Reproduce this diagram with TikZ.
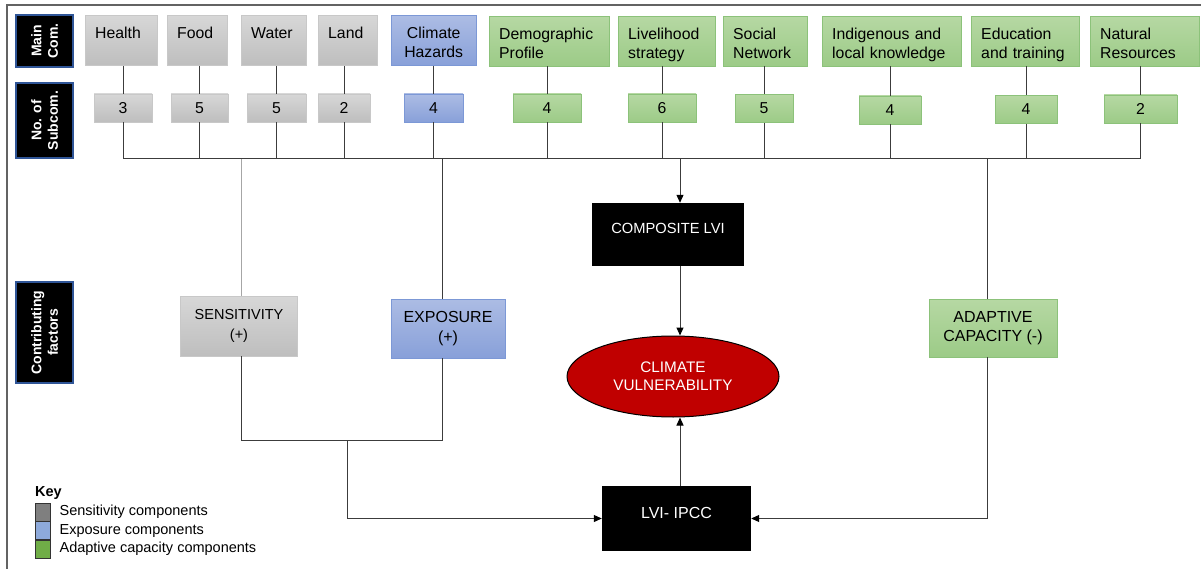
\documentclass[tikz,border=0pt]{standalone}
\usepackage{fontspec}
\setmainfont{Liberation Sans}
\usepackage{tikz}
\usetikzlibrary{arrows.meta,positioning,shapes.geometric}
\definecolor{grayhi}{RGB}{215,215,215}
\definecolor{graylo}{RGB}{190,190,190}
\definecolor{grayedge}{RGB}{200,200,200}
\definecolor{greenhi}{RGB}{182,216,163}
\definecolor{greenlo}{RGB}{156,203,135}
\definecolor{greenedge}{RGB}{140,194,122}
\definecolor{bluehi}{RGB}{172,188,228}
\definecolor{bluelo}{RGB}{136,160,217}
\definecolor{blueedge}{RGB}{124,152,214}
\definecolor{tagedge}{RGB}{47,85,151}
\definecolor{vulnred}{RGB}{192,0,0}
\definecolor{wirecol}{RGB}{60,60,60}
\definecolor{keygray}{RGB}{127,127,127}
\definecolor{keyblue}{RGB}{142,170,219}
\definecolor{keygreen}{RGB}{112,173,71}
\newcommand{\compfs}{\fontsize{15.8}{19}\selectfont}
\newcommand{\tagfs}{\fontsize{14}{16.5}\selectfont\bfseries}
\newcommand{\keyfs}{\fontsize{14.5}{18}\selectfont}

\begin{document}
\begin{tikzpicture}[x=1pt, y=-1pt,
  comp/.style={draw, align=left, font=\compfs, anchor=north west,
               inner xsep=10pt, inner ysep=3pt, text height=20pt, text depth=24pt},
  num/.style={draw, font=\compfs, minimum height=28pt, inner sep=0pt},
  grayc/.style={draw=grayedge, top color=grayhi, bottom color=graylo},
  greenc/.style={draw=greenedge, top color=greenhi, bottom color=greenlo},
  bluec/.style={draw=blueedge, top color=bluehi, bottom color=bluelo},
  tag/.style={draw=tagedge, line width=1.5pt, fill=black, text=white, font=\tagfs,
              align=center, rotate=90, minimum height=57pt, inner sep=0pt},
  factor/.style={align=center, inner sep=0pt},
  lvi/.style={fill=black, text=white, inner sep=0pt},
  keysq/.style={draw=black!80, anchor=north west, minimum width=15pt, minimum height=18pt, inner sep=0pt},
  keytx/.style={font=\keyfs, inner sep=0pt},
  wire/.style={draw=wirecol, line width=1pt},
  arr/.style={wire, -{Triangle[length=8pt,width=7pt,color=black]}}]
  \useasboundingbox (0,0) rectangle (1201,569);
  \draw[wirecol!80, line width=1.2pt] (7,569) -- (7,5) -- (1201,5);

  % row labels
  \node[tag, minimum width=52pt] (tmain) at (44.5,41) {Main\\Com.};
  \node[tag, minimum width=75pt] (tsub) at (44.5,120.5) {No. of\\Subcom.};
  \node[tag, minimum width=101pt] (tfac) at (44.5,332.5) {Contributing\\factors};

  % main components
  \node[comp, grayc, text width=52pt] (health) at (85,15.5) {Health};
  \node[comp, grayc, text width=40pt] (food) at (167,15.5) {Food};
  \node[comp, grayc, text width=45pt] (water) at (241,15.5) {Water};
  \node[comp, grayc, text width=39pt] (land) at (318,15.5) {Land};
  \node[comp, bluec, text width=65pt, align=center] (hazard) at (391,15.5) {Climate\\Hazards};
  \node[comp, greenc, text width=100pt] (demo) at (489,16) {Demographic\\Profile};
  \node[comp, greenc, text width=77pt] (liveli) at (618,16) {Livelihood\\strategy};
  \node[comp, greenc, text width=64pt] (social) at (723,16) {Social\\Network};
  \node[comp, greenc, text width=119pt] (indig) at (822,16) {Indigenous and\\local knowledge};
  \node[comp, greenc, text width=88pt] (educ) at (971,16) {Education\\and training};
  \node[comp, greenc, text width=89pt] (natres) at (1090,16) {Natural\\Resources};

  % number of subcomponents
  \node[num, grayc, minimum width=58pt] (nhealth) at (123,108) {3};
  \node[num, grayc, minimum width=57pt] (nfood) at (199.5,108) {5};
  \node[num, grayc, minimum width=59pt] (nwater) at (276.5,108) {5};
  \node[num, grayc, minimum width=52pt] (nland) at (344,108) {2};
  \node[num, bluec, minimum width=59pt] (nhazard) at (433.5,108) {4};
  \node[num, greenc, minimum width=68pt] (ndemo) at (547,108) {4};
  \node[num, greenc, minimum width=68pt] (nliveli) at (662,108) {6};
  \node[num, greenc, minimum width=58pt] (nsocial) at (764,108.5) {5};
  \node[num, greenc, minimum width=62pt] (nindig) at (890,110) {4};
  \node[num, greenc, minimum width=62pt] (neduc) at (1026,109.5) {4};
  \node[num, greenc, minimum width=73pt] (nnatres) at (1140.5,109) {2};

  \draw[wire] (nhealth.north |- health.south) -- (nhealth.north); \draw[wire] (nfood.north |- food.south) -- (nfood.north);
  \draw[wire] (nwater.north |- water.south) -- (nwater.north); \draw[wire] (nland.north |- land.south) -- (nland.north);
  \draw[wire] (nhazard.north |- hazard.south) -- (nhazard.north); \draw[wire] (ndemo.north |- demo.south) -- (ndemo.north);
  \draw[wire] (nliveli.north |- liveli.south) -- (nliveli.north); \draw[wire] (nsocial.north |- social.south) -- (nsocial.north);
  \draw[wire] (nindig.north |- indig.south) -- (nindig.north); \draw[wire] (neduc.north |- educ.south) -- (neduc.north);
  \draw[wire] (nnatres.north |- natres.south) -- (nnatres.north);

  % bus
  \coordinate (busy) at (0,159);
  \draw[wire] (nhealth.south) |- (nnatres.south |- busy) -- (nnatres.south);
  \draw[wire] (nfood.south) -- (nfood.south |- busy); \draw[wire] (nwater.south) -- (nwater.south |- busy);
  \draw[wire] (nland.south) -- (nland.south |- busy); \draw[wire] (nhazard.south) -- (nhazard.south |- busy);
  \draw[wire] (ndemo.south) -- (ndemo.south |- busy); \draw[wire] (nliveli.south) -- (nliveli.south |- busy);
  \draw[wire] (nsocial.south) -- (nsocial.south |- busy); \draw[wire] (nindig.south) -- (nindig.south |- busy);
  \draw[wire] (neduc.south) -- (neduc.south |- busy);

  % contributing factors and indices
  \node[factor, grayc, minimum width=117pt, minimum height=60pt, font=\fontsize{14.5}{20}\selectfont] (sens) at (239,326) {SENSITIVITY\\(+)};
  \node[factor, bluec, minimum width=114pt, minimum height=59pt, font=\fontsize{16}{20}\selectfont] (expo) at (448,328.5) {EXPOSURE\\(+)};
  \node[factor, greenc, minimum width=128pt, minimum height=58pt, font=\fontsize{16}{19}\selectfont] (adapt) at (993,328) {ADAPTIVE\\CAPACITY (-)};
  \node[lvi, minimum width=152pt, minimum height=63pt, text height=10.5pt, text depth=13pt, font=\fontsize{14.7}{17}\selectfont] (comp) at (668,234.5) {COMPOSITE LVI};
  \node[lvi, minimum width=149pt, minimum height=65pt, text height=11.5pt, text depth=11pt, font=\fontsize{16}{19}\selectfont] (ipcc) at (676.5,518.5) {LVI- IPCC};
  \node[ellipse, draw=black, line width=1pt, fill=vulnred, text=white, align=center, inner sep=0pt,
        minimum width=212pt, minimum height=81pt, font=\fontsize{15.3}{18}\selectfont] (vuln) at (673,376.5) {CLIMATE\\VULNERABILITY};

  \coordinate (xs) at (241,0); \coordinate (xe) at (442,0); \coordinate (xc) at (680,0);
  \coordinate (xa) at (987,0); \coordinate (xj) at (347,0); \coordinate (joiny) at (0,440);
  \draw[wire, draw=black!35] (xs |- busy) -- (xs |- sens.north);
  \draw[wire] (xe |- busy) -- (xe |- expo.north);
  \draw[wire] (xa |- busy) -- (xa |- adapt.north);
  \draw[arr] (xc |- busy) -- (xc |- comp.north);
  \draw[arr] (xc |- comp.south) -- (xc |- vuln.north);
  \draw[arr] (xc |- ipcc.north) -- (xc |- vuln.south);
  \draw[wire] (xs |- sens.south) -- (xs |- joiny) -- (xe |- joiny) -- (xe |- expo.south);
  \draw[arr] (xj |- joiny) |- (ipcc.west);
  \draw[arr] (xa |- adapt.south) |- (ipcc.east);

  % key
  \node[keytx, font=\keyfs\bfseries, anchor=west] (key) at (35,493) {Key};
  \node[keysq, fill=keygray] (ksens) at (35,503) {};
  \node[keysq, fill=keyblue, below=0pt of ksens] (kexpo) {};
  \node[keysq, fill=keygreen, below=0pt of kexpo] (kadapt) {};
  \node[keytx, right=9pt of ksens] {Sensitivity components};
  \node[keytx, right=9pt of kexpo] {Exposure components};
  \node[keytx, right=9pt of kadapt] {Adaptive capacity components};
\end{tikzpicture}
\end{document}
